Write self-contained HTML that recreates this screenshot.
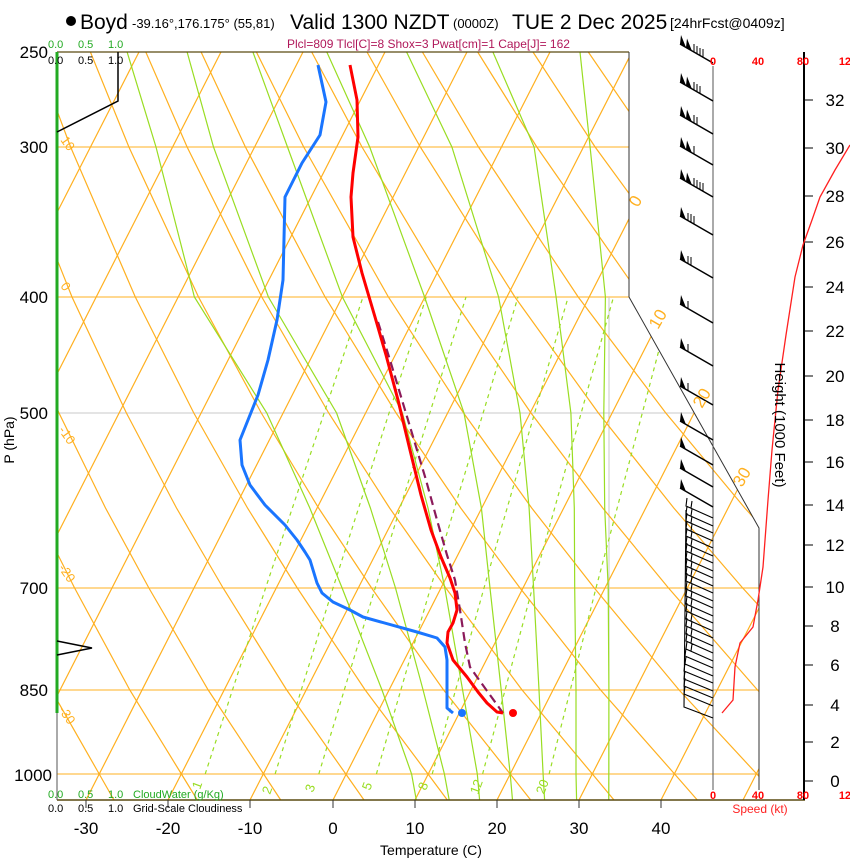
<!DOCTYPE html>
<html><head><meta charset="utf-8"><style>
html,body{margin:0;padding:0;background:#fff;}
svg{display:block;font-family:"Liberation Sans",sans-serif;}
</style></head><body>
<svg width="850" height="860" viewBox="0 0 850 860" xmlns="http://www.w3.org/2000/svg">
<defs><clipPath id="cp"><path d="M57,52 L629,52 L629,297 L759,528 L759,800 L57,800 Z"/></clipPath></defs>
<g clip-path="url(#cp)" fill="none">
<g stroke="#ffb020" stroke-width="1">
<line x1="57" x2="760" y1="147" y2="147"/><line x1="57" x2="760" y1="297" y2="297"/><line x1="57" x2="760" y1="588" y2="588"/><line x1="57" x2="760" y1="690" y2="690"/><line x1="57" x2="760" y1="774" y2="774"/>
</g>
<line x1="57" x2="760" y1="413" y2="413" stroke="#c8c8c8"/>
<line x1="609" x2="609" y1="297" y2="800" stroke="#c8c8c8"/>
<g stroke="#ffb020" stroke-width="1.2">
<line x1="-325" y1="800" x2="56" y2="52"/><line x1="-243" y1="800" x2="139" y2="52"/><line x1="-160" y1="800" x2="221" y2="52"/><line x1="-78" y1="800" x2="303" y2="52"/><line x1="4" y1="800" x2="385" y2="52"/><line x1="86" y1="800" x2="467" y2="52"/><line x1="168" y1="800" x2="550" y2="52"/><line x1="250" y1="800" x2="632" y2="52"/><line x1="333" y1="800" x2="714" y2="52"/><line x1="415" y1="800" x2="796" y2="52"/><line x1="497" y1="800" x2="878" y2="52"/><line x1="579" y1="800" x2="961" y2="52"/><line x1="661" y1="800" x2="1043" y2="52"/><line x1="743" y1="800" x2="1125" y2="52"/>
<polyline points="30.7,800 17,774 -27,690"/>
<polyline points="114,800 99.2,774 51.3,690 0.4,588"/>
<polyline points="197.3,800 181.4,774 129.8,690 74.6,588 34.4,508 -8.5,413"/>
<polyline points="280.7,800 263.6,774 208.2,690 148.9,588 105.5,508 59,413 8.7,297"/>
<polyline points="364,800 345.8,774 286.7,690 223.1,588 176.5,508 126.4,413 72,297 12.3,147 -20.2,52"/>
<polyline points="447.3,800 428,774 365.2,690 297.3,588 247.5,508 193.8,413 135.3,297 70.6,147 35.1,52"/>
<polyline points="530.7,800 510.2,774 443.6,690 371.6,588 318.6,508 261.3,413 198.5,297 128.9,147 90.4,52"/>
<polyline points="614,800 592.4,774 522.1,690 445.8,588 389.6,508 328.7,413 261.8,297 187.1,147 145.8,52"/>
<polyline points="697.3,800 674.6,774 600.6,690 520,588 460.7,508 396.1,413 325.1,297 245.4,147 201.1,52"/>
<polyline points="780.7,800 756.8,774 679.1,690 594.3,588 531.7,508 463.6,413 388.4,297 303.7,147 256.4,52"/>
<polyline points="864,800 839,774 757.5,690 668.5,588 602.7,508 531,413 451.6,297 362,147 311.7,52"/>
<polyline points="947.3,800 921.2,774 836,690 742.7,588 673.8,508 598.4,413 514.9,297 420.3,147 367,52"/>
<polyline points="1030.6,800 1003.4,774 914.5,690 816.9,588 744.8,508 665.8,413 578.2,297 478.5,147 422.4,52"/>
<polyline points="992.9,690 891.2,588 815.9,508 733.3,413 641.4,297 536.8,147 477.7,52"/>
<polyline points="800.7,413 704.7,297 595.1,147 533,52"/>
<polyline points="868.1,413 768,297 653.4,147 588.3,52"/>
<polyline points="831.2,297 711.7,147 643.6,52"/>
</g>
<g stroke="#99dd22" stroke-width="1.2">
<polyline points="416.3,800 411.6,774 382,690 342.1,588 309.8,508 266.8,413 194.4,297 156,147 127.1,52"/>
<polyline points="449.2,800 444.4,774 423.1,690 395.5,588 370.4,508 336.6,413 268.4,297 213.5,147 187.1,52"/>
<polyline points="479.6,800 477.3,774 462.6,690 444.8,588 428,508 402.4,413 342.4,297 287.5,147 252.9,52"/>
<polyline points="512.5,800 510.2,774 501.2,690 490,588 481.4,508 464,413 424.6,297 369.7,147 326.8,52"/>
<polyline points="544.6,800 543.1,774 539,690 533.6,588 529.1,508 520,413 498.6,297 451.9,147 406.6,52"/>
<polyline points="576.6,800 576,774 576,690 574.7,588 574.3,508 570.9,413 556.1,297 534.1,147 492.9,52"/>
<polyline points="608.7,800 608.8,774 608.9,690 608.2,588 604.7,508 603.8,413 605.4,297 590.1,147 580,52"/>
</g>
<g stroke="#99dd22" stroke-width="1.2" stroke-dasharray="4,4">
<polyline points="205.2,774 265.6,588 363,297"/>
<polyline points="275.1,774 333,588 426.2,297"/>
<polyline points="318.8,774 375.2,588 466,297"/>
<polyline points="376.4,774 430.5,588 518,297"/>
<polyline points="432.2,774 484,588 568.2,297"/>
<polyline points="482.6,774 532.4,588 613.5,297"/>
<polyline points="549.1,774 596,588 673,297"/>
</g>
</g>
<line x1="57" x2="629" y1="52" y2="52" stroke="#5a4a10" stroke-width="1.2"/>
<polyline points="629,52 629,297 759,528 759,790" fill="none" stroke="#333" stroke-width="1"/>
<line x1="57" x2="805" y1="800" y2="800" stroke="#5a4a10" stroke-width="1.5"/>
<line x1="57" x2="57" y1="52" y2="800" stroke="#555"/>
<line x1="57" x2="57" y1="52" y2="713" stroke="#22aa22" stroke-width="3"/>
<g stroke="#333"><line x1="86" x2="86" y1="800" y2="808"/><line x1="168" x2="168" y1="800" y2="808"/><line x1="250" x2="250" y1="800" y2="808"/><line x1="333" x2="333" y1="800" y2="808"/><line x1="415" x2="415" y1="800" y2="808"/><line x1="497" x2="497" y1="800" y2="808"/><line x1="579" x2="579" y1="800" y2="808"/><line x1="661" x2="661" y1="800" y2="808"/></g>
<line x1="713" x2="713" y1="66" y2="790" stroke="#555"/>
<line x1="804" x2="804" y1="52" y2="800" stroke="#000" stroke-width="2"/>
<path d="M804,781h9M804,742h9M804,705h9M804,665h9M804,626h9M804,587h9M804,545h9M804,505h9M804,462h9M804,420h9M804,376h9M804,331h9M804,287h9M804,242h9M804,196h9M804,148h9M804,100h9" stroke="#000"/>
<polyline points="118,52 118,101 57,132" fill="none" stroke="#000" stroke-width="1.5"/>
<polyline points="57,641 92,648 57,655" fill="none" stroke="#000" stroke-width="1.5"/>
<g stroke="#000" stroke-width="1.5" fill="none">
<path d="M713,63L680,44M713,101L680,82M713,134L680,115M713,165L680,146M713,197L680,178M713,235L680,216M713,278L680,259M713,323L680,304M713,366L680,347M713,405L680,386M713,440L680,421M713,465L680,446M713,487L680,468M713,507L680,488"/>
</g>
<g fill="#000">
<path d="M680,44L681,35L686,47.5ZM686,47.5L687,38.5L692,51Z"/>
<path d="M680,82L681,73L686,85.5ZM686,85.5L687,76.5L692,89Z"/>
<path d="M680,115L681,106L686,118.5ZM686,118.5L687,109.5L692,122Z"/>
<path d="M680,146L681,137L686,149.5ZM686,149.5L687,140.5L692,153Z"/>
<path d="M680,178L681,169L686,181.5ZM686,181.5L687,172.5L692,185Z"/>
<path d="M680,216L681,207L686,219.5Z"/><path d="M680,259L681,250L686,262.5Z"/><path d="M680,304L681,295L686,307.5Z"/><path d="M680,347L681,338L686,350.5Z"/><path d="M680,386L681,377L686,389.5Z"/><path d="M680,421L681,412L686,424.5Z"/><path d="M680,446L681,437L686,449.5Z"/><path d="M680,468L681,459L686,471.5Z"/><path d="M680,488L681,479L686,491.5Z"/>
</g>
<g stroke="#000" stroke-width="1" fill="none">
<path d="M694,52v-8M697,54v-8M700,56v-8M703,57v-8"/>
<path d="M694,90v-8M697,92v-8M700,94v-8"/>
<path d="M694,123v-8M697,125v-8"/>
<path d="M694,154v-8"/>
<path d="M694,186v-8M697,188v-8M700,190v-8M703,191v-8"/>
<path d="M688,221v-8M691,222v-8M694,224v-8"/>
<path d="M688,264v-8M691,265v-8"/>
<path d="M688,309v-8"/><path d="M688,352v-8"/><path d="M688,391v-8"/>
</g>
<g stroke="#000" stroke-width="1.1" fill="none">
<path d="M713,518L686,506L687,498M691,508L692,501M713,526L686,514L687,506M691,516L692,509M713,533L686,521L687,513M691,523L692,516M713,541L686,529L687,521M691,531L692,524M713,548L686,536L687,528M691,538L692,531M713,556L686,544L687,536M691,546L692,539M713,563L686,551L687,543M691,553L692,546M713,571L686,559L687,551M691,561L692,554M713,578L686,566L687,558M691,568L692,561M713,586L686,574L687,566M691,576L692,569M713,593L686,581L687,573M691,583L692,576M713,601L686,589L687,581M691,591L692,584M713,608L686,596L687,588M691,598L692,591M713,616L686,604L687,596M691,606L692,599M713,623L686,611L687,603M691,613L692,606M713,631L686,619L687,611M691,621L692,614M713,638L686,626L687,618M691,628L692,621M713,646L686,634L687,626M691,636L692,629M713,653L686,641L687,633M691,643L692,636M713,661L686,649L687,641M691,651L692,644M713,668L685,656L686,648M713,676L685,664L686,656M713,683L684,671L685,663M713,691L684,679L685,671M713,698L684,686L685,678M713,706L684,694L685,686"/>
<polyline points="713,718 684,707 686,510"/>
</g>
<polyline points="722,713 733,700 735,667 740,643 753,627 758,600 763,567 768,500 772,450 778,390 786,335 795,277 803,245 812,220 820,197 835,170 850,145" fill="none" stroke="#ff2020" stroke-width="1.3"/>
<polyline points="318,65 326,102 320,135 302,163 285,197 283,280 277,320 268,360 258,395 248,420 240,440 242,465 250,485 265,505 285,525 297,540 305,552 310,560 317,583 322,593 333,602 350,610 363,617 417,632 437,638 445,647 447,660 447,693 447,708 453,713" fill="none" stroke="#1a75ff" stroke-width="3" stroke-linejoin="round"/>
<circle cx="462" cy="713" r="4" fill="#1a75ff"/>
<polyline points="378,322 390,360 402,400 414,440 426,480 437,520 447,555 455,580 460,610 465,643 470,667 477,677 503,713" fill="none" stroke="#8b1a5a" stroke-width="2.2" stroke-dasharray="9,5"/>
<polyline points="350,65 357,100 358,137 353,173 351,197 353,237 362,273 375,317 386,355 398,400 410,450 421,495 431,530 441,557 450,578 455,593 457,610 453,623 448,632 447,643 453,660 467,677 478,692 487,703 497,712 503,713" fill="none" stroke="#ff0000" stroke-width="3" stroke-linejoin="round"/>
<circle cx="513" cy="713" r="4" fill="#ff0000"/>
<circle cx="71" cy="21" r="5" fill="#000"/>
<text x="80" y="29" font-size="21">Boyd</text>
<text x="132" y="28" font-size="13">-39.16°,176.175° (55,81)</text>
<text x="290" y="29" font-size="21">Valid 1300 NZDT</text>
<text x="453" y="28" font-size="13">(0000Z)</text>
<text x="512" y="29" font-size="21">TUE 2 Dec 2025</text>
<text x="670" y="28" font-size="14">[24hrFcst@0409z]</text>
<text x="287" y="48" font-size="12" fill="#b0185a">Plcl=809 Tlcl[C]=8 Shox=3 Pwat[cm]=1 Cape[J]= 162</text>
<g font-size="11" fill="#22aa22"><text x="48" y="48">0.0</text><text x="78" y="48">0.5</text><text x="108" y="48">1.0</text></g>
<g font-size="11" fill="#000"><text x="48" y="64">0.0</text><text x="78" y="64">0.5</text><text x="108" y="64">1.0</text></g>
<g font-size="11" fill="#22aa22"><text x="48" y="798">0.0</text><text x="78" y="798">0.5</text><text x="108" y="798">1.0</text><text x="133" y="798">CloudWater (g/Kg)</text></g>
<g font-size="11" fill="#000"><text x="48" y="812">0.0</text><text x="78" y="812">0.5</text><text x="108" y="812">1.0</text><text x="133" y="812">Grid-Scale Cloudiness</text></g>
<g font-size="17" text-anchor="end"><text x="48" y="58">250</text><text x="48" y="153">300</text><text x="48" y="303">400</text><text x="48" y="419">500</text><text x="48" y="594">700</text><text x="48" y="696">850</text><text x="52" y="781">1000</text></g>
<text transform="translate(14,440) rotate(-90)" font-size="14" text-anchor="middle">P (hPa)</text>
<g font-size="17" text-anchor="middle"><text x="86" y="834">-30</text><text x="168" y="834">-20</text><text x="250" y="834">-10</text><text x="333" y="834">0</text><text x="415" y="834">10</text><text x="497" y="834">20</text><text x="579" y="834">30</text><text x="661" y="834">40</text></g>
<text x="431" y="855" font-size="14" text-anchor="middle">Temperature (C)</text>
<g font-size="17" text-anchor="middle"><text x="835" y="787">0</text><text x="835" y="748">2</text><text x="835" y="711">4</text><text x="835" y="671">6</text><text x="835" y="632">8</text><text x="835" y="593">10</text><text x="835" y="551">12</text><text x="835" y="511">14</text><text x="835" y="468">16</text><text x="835" y="426">18</text><text x="835" y="382">20</text><text x="835" y="337">22</text><text x="835" y="293">24</text><text x="835" y="248">26</text><text x="835" y="202">28</text><text x="835" y="154">30</text><text x="835" y="106">32</text></g>
<text transform="translate(775,425) rotate(90)" font-size="15" text-anchor="middle">Height (1000 Feet)</text>
<g font-size="11" font-weight="bold" fill="#ff0000" text-anchor="middle"><text x="713" y="65">0</text><text x="758" y="65">40</text><text x="803" y="65">80</text><text x="848" y="65">120</text><text x="713" y="799">0</text><text x="758" y="799">40</text><text x="803" y="799">80</text><text x="848" y="799">120</text></g>
<text x="760" y="813" font-size="12" fill="#ff2222" text-anchor="middle">Speed (kt)</text>
<g font-size="17" fill="#ffb020"><text transform="translate(638,208) rotate(-60)">0</text><text transform="translate(658,330) rotate(-60)">10</text><text transform="translate(702,409) rotate(-60)">20</text><text transform="translate(742,488) rotate(-60)">30</text></g>
<g font-size="13" fill="#ffb020"><text transform="translate(60,140) rotate(55)">10</text><text transform="translate(60,286) rotate(55)">0</text><text transform="translate(58,430) rotate(55)">-10</text><text transform="translate(58,568) rotate(55)">-20</text><text transform="translate(58,710) rotate(55)">-30</text></g>
<g font-size="13" fill="#99dd22"><text transform="translate(200,790) rotate(-70)">1</text><text transform="translate(270,795) rotate(-70)">2</text><text transform="translate(313,793) rotate(-70)">3</text><text transform="translate(370,791) rotate(-70)">5</text><text transform="translate(426,791) rotate(-70)">8</text><text transform="translate(478,795) rotate(-70)">12</text><text transform="translate(544,795) rotate(-70)">20</text></g>
</svg>
</body></html>
